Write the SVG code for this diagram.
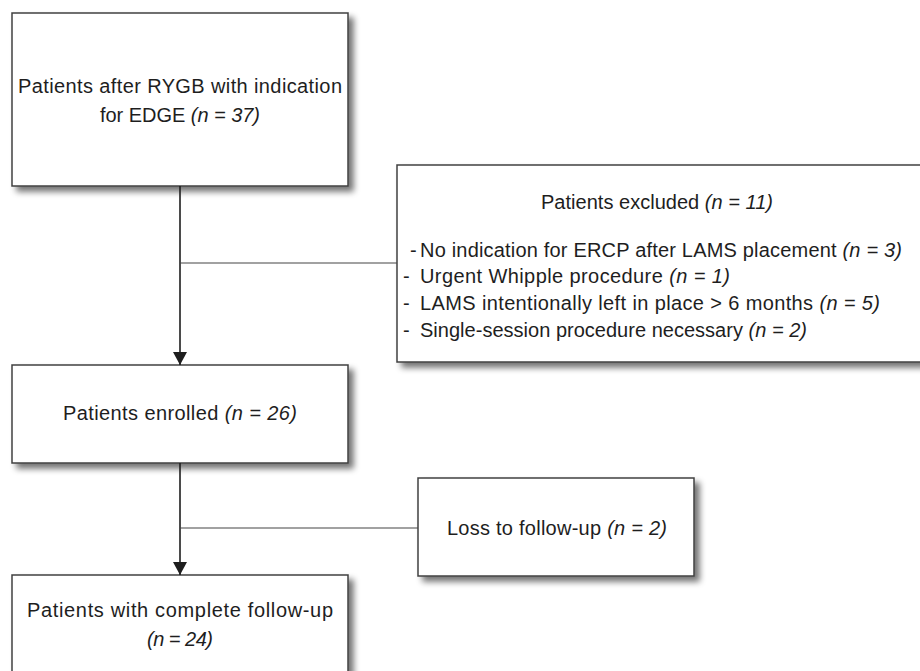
<svg xmlns="http://www.w3.org/2000/svg" width="920" height="671" viewBox="0 0 920 671">
<style>
.box{fill:#fff;stroke:#404040;stroke-width:1.5;filter:url(#sh)}
.t{font-family:"Liberation Sans",Arial,sans-serif;font-size:20px;fill:#1e1e1e}
.c{text-anchor:middle}
.i{font-style:italic}
.ln{stroke:#1e1e1e;stroke-width:1.6;fill:none}
.br{stroke:#444;stroke-width:1.2;fill:none}
</style>
<defs>
<filter id="sh" x="-10%" y="-10%" width="130%" height="130%">
<feGaussianBlur in="SourceAlpha" stdDeviation="3"/>
<feOffset dx="5" dy="5" result="b"/>
<feComponentTransfer><feFuncA type="linear" slope="0.55"/></feComponentTransfer>
<feMerge><feMergeNode/><feMergeNode in="SourceGraphic"/></feMerge>
</filter>
<marker id="ar" markerWidth="13" markerHeight="14" refX="13" refY="7" orient="auto" markerUnits="userSpaceOnUse" viewBox="0 0 13 14">
<path d="M0,0 L13,7 L0,14 Z" fill="#1e1e1e"/>
</marker>
</defs>
<rect width="920" height="671" fill="#fff"/>
<g id="n1">
<rect class="box" x="12" y="13" width="336" height="173"/>
<text class="t c" x="180" y="93" textLength="324" lengthAdjust="spacing">Patients after RYGB with indication</text>
<text class="t c" x="180" y="122" textLength="160" lengthAdjust="spacing">for EDGE <tspan class="i">(n = 37)</tspan></text>
</g>
<g id="n2">
<rect class="box" x="397" y="165" width="530" height="197"/>
<text class="t c" x="657" y="209" textLength="232" lengthAdjust="spacing">Patients excluded <tspan class="i">(n = 11)</tspan></text>
<text class="t" x="410" y="257">-</text>
<text class="t" x="420" y="257" textLength="482" lengthAdjust="spacing">No indication for ERCP after LAMS placement <tspan class="i">(n = 3)</tspan></text>
<text class="t" x="403" y="283">-</text>
<text class="t" x="420" y="283" textLength="310" lengthAdjust="spacing">Urgent Whipple procedure <tspan class="i">(n = 1)</tspan></text>
<text class="t" x="403" y="310">-</text>
<text class="t" x="420" y="310" textLength="460" lengthAdjust="spacing">LAMS intentionally left in place &gt; 6 months <tspan class="i">(n = 5)</tspan></text>
<text class="t" x="403" y="337">-</text>
<text class="t" x="420" y="337" textLength="387" lengthAdjust="spacing">Single-session procedure necessary <tspan class="i">(n = 2)</tspan></text>
</g>
<g id="n3">
<rect class="box" x="12" y="365" width="336" height="98"/>
<text class="t c" x="180" y="420" textLength="234" lengthAdjust="spacing">Patients enrolled <tspan class="i">(n = 26)</tspan></text>
</g>
<g id="n4">
<rect class="box" x="418" y="478" width="276" height="98"/>
<text class="t c" x="557" y="535" textLength="220" lengthAdjust="spacing">Loss to follow-up <tspan class="i">(n = 2)</tspan></text>
</g>
<g id="n5">
<rect class="box" x="12" y="575" width="336" height="120"/>
<text class="t c" x="180" y="617" textLength="306" lengthAdjust="spacing">Patients with complete follow-up</text>
<text class="t c i" x="180" y="646" textLength="66" lengthAdjust="spacing">(n = 24)</text>
</g>
<g id="connectors">
<line class="ln" x1="180" y1="186" x2="180" y2="365" marker-end="url(#ar)"/>
<line class="br" x1="180" y1="263" x2="397" y2="263"/>
<line class="ln" x1="180" y1="463" x2="180" y2="575" marker-end="url(#ar)"/>
<line class="br" x1="180" y1="528" x2="418" y2="528"/>
</g>
</svg>
